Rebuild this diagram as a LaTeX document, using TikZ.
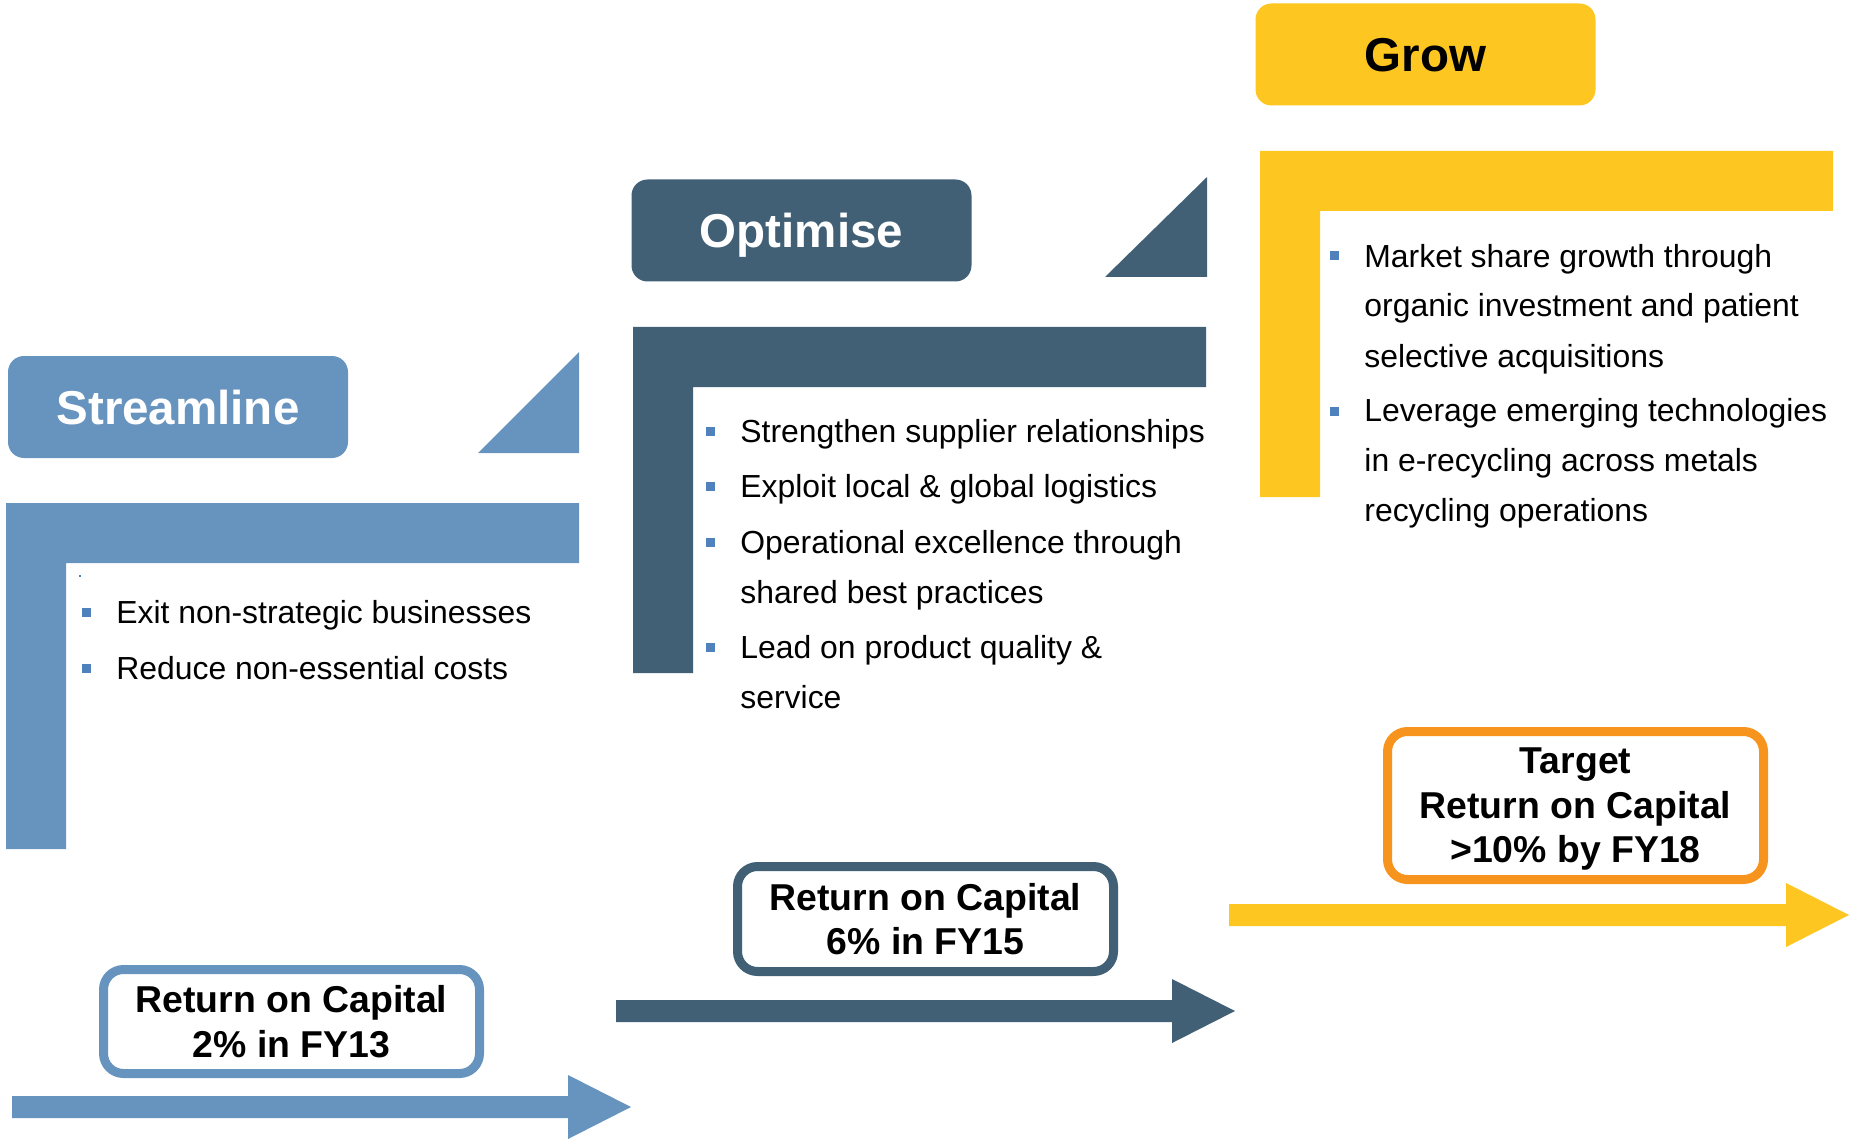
\documentclass[tikz,border=0pt]{standalone}
\usepackage{fontspec}
\setmainfont{Liberation Sans}
\definecolor{streamblue}{HTML}{6794BE}
\definecolor{optislate}{HTML}{416076}
\definecolor{growyellow}{HTML}{FEC620}
\definecolor{targetorange}{HTML}{F7941D}
\definecolor{bulletblue}{HTML}{4F81BD}

\begin{document}
\begin{tikzpicture}[x=.5pt,y=-.5pt,line join=round]
	\tikzset{stage/.style={rounded corners=8pt,inner sep=0pt,minimum width=170pt,minimum height=51pt,text depth=0pt,font=\fontsize{23.75}{28}\selectfont\bfseries},
		item/.style={anchor=base west,align=left,inner sep=0pt,font=\fontsize{15.95}{25}\selectfont},
		roc/.style={draw,line width=4.5pt,rounded corners=10pt,fill=white,inner sep=0pt,minimum width=188pt,text depth=0pt,align=center,font=\fontsize{18.7}{22.25}\selectfont\bfseries}}
	\useasboundingbox (0,0) rectangle (1850,1144);
	% corner bars, one per stage
	\foreach \c/\x/\y in {streamblue/6/503,optislate/633/327,growyellow/1260/151}
	\fill[\c] (\x,\y) -- ++(573,0) -- ++(0,60) -- ++(-513,0) -- ++(0,286) -- ++(-60,0) -- cycle;
	% wedges
	\fill[streamblue] (478,453) -- (579,453) -- (579,352) -- cycle;
	\fill[optislate] (1105,277) -- (1207,277) -- (1207,177) -- cycle;
	% stage titles
	\node[stage,fill=streamblue,text=white] (streamline) at (178,407) {Streamline};
	\node[stage,fill=optislate,text=white] (optimise) at (801.5,230.5) {Optimise};
	\node[stage,fill=growyellow,text=black] (grow) at (1425.5,54.5) {Grow};
	% bullets
	\foreach \x/\y in {86/612,86/668,710/431,710/486.5,710/542,710/647,1334/256,1334/411}
	\fill[bulletblue] (\x-4.5,\y-4.5) rectangle (\x+4.5,\y+4.5);
	\fill[bulletblue] (79,575) rectangle (81,577);
	% items sit on the baseline of their last line
	\node[item] (exit) at (116,623) {Exit non-strategic businesses};
	\node[item] (reduce) at (116,679) {Reduce non-essential costs};
	\node[item] (supplier) at (740,442) {Strengthen supplier relationships};
	\node[item] (logistics) at (740,497.5) {Exploit local \& global logistics};
	\node[item] (excellence) at (740,603) {Operational excellence through\\shared best practices};
	\node[item] (quality) at (740,708) {Lead on product quality \&\\service};
	\node[item] (share) at (1364,367) {Market share growth through\\organic investment and patient\\selective acquisitions};
	\node[item] (leverage) at (1364,521) {Leverage emerging technologies\\in e-recycling across metals\\recycling operations};
	% timeline arrows
	\foreach \c/\xa/\xb/\ym in {streamblue/12/568/1107,optislate/616/1172/1011,growyellow/1229/1786/915}
	\fill[\c] (\xa,\ym-11) -- (\xb,\ym-11) -- (\xb,\ym-32) -- (\xb+63,\ym) -- (\xb,\ym+32) -- (\xb,\ym+11) -- (\xa,\ym+11) -- cycle;
	% return on capital
	\node[roc,draw=streamblue,minimum height=52pt] (roc13) at (291.5,1021.5) {Return on Capital\\2\% in FY13};
	\node[roc,draw=optislate,minimum height=52.5pt] (roc15) at (925.5,919) {Return on Capital\\6\% in FY15};
	\node[roc,draw=targetorange,minimum height=74pt] (roc18) at (1575.5,805.5) {Target\\Return on Capital\\>10\% by FY18};
\end{tikzpicture}
\end{document}
